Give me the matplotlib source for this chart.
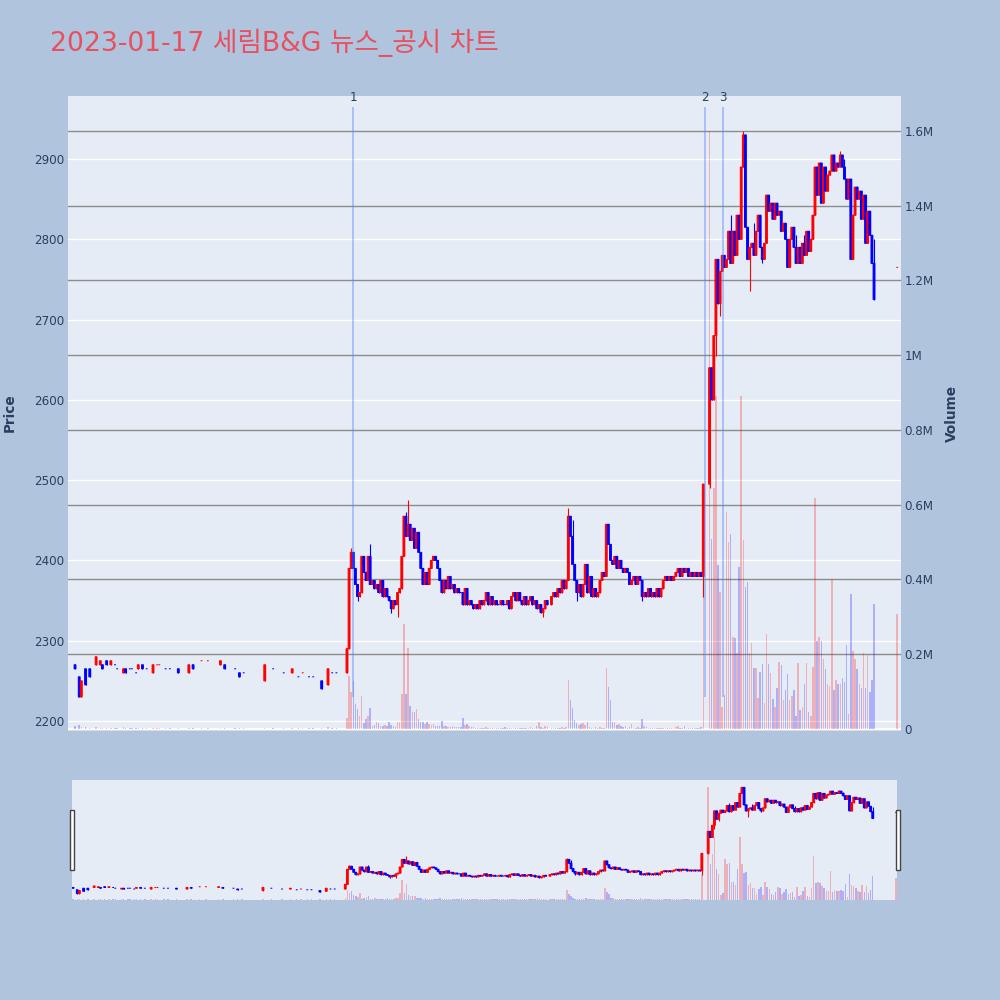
import matplotlib
matplotlib.use("Agg")
import matplotlib.pyplot as plt
from matplotlib.patches import Rectangle
from matplotlib.ticker import FuncFormatter

plt.rcParams['font.family'] = ['DejaVu Sans', 'Noto Sans CJK KR']

TITLE = "2023-01-17 세림B&G 뉴스_공시 차트"

# Morning session: sparse trades (minutes after 09:00)
am_minute = [0, 2, 3, 5, 7, 10, 12, 13, 15, 17, 19, 20, 23, 24, 26, 27, 29, 30, 32, 34,
             37, 39, 40, 43, 45, 49, 54, 56, 60, 63, 69, 71, 76, 78, 80, 90, 94, 99, 103, 106,
             108, 111, 113, 117, 120, 122, 124]
am_open = [2270, 2255, 2230, 2265, 2265, 2270, 2270, 2270, 2275, 2270, 2270, 2265, 2260, 2265, 2265,
           2265, 2260, 2265, 2270, 2265, 2260, 2270, 2270, 2265, 2265, 2265, 2260, 2270, 2275, 2275,
           2270, 2270, 2265, 2260, 2260, 2250, 2265, 2260, 2260, 2255, 2260, 2255, 2255, 2250, 2245,
           2260, 2260]
am_close = [2265, 2230, 2250, 2245, 2255, 2280, 2275, 2265, 2270, 2275, 2270, 2265, 2265, 2260, 2265,
            2265, 2260, 2270, 2265, 2265, 2270, 2270, 2270, 2265, 2265, 2260, 2270, 2265, 2275, 2275,
            2275, 2265, 2265, 2255, 2260, 2270, 2265, 2260, 2265, 2255, 2260, 2255, 2255, 2240, 2265,
            2260, 2260]
am_volume = [8, 10, 6, 5, 4, 6, 3, 3, 4, 3, 2, 2, 5, 3, 2, 2, 2, 3, 3, 2, 3, 2, 2, 2, 2, 3, 4, 3,
             2, 2, 3, 3, 2, 4, 2, 3, 2, 2, 3, 2, 2, 2, 2, 4, 5, 2, 2]   # thousand shares
am_flat_up = [39, 40, 60, 63, 108]

# From 11:09 one close per minute up to 15:19 (None = no trade)
pm_start = 129
pm_first_open = 2260
pm_close = [
    2290, 2390, 2410, 2390, 2370, 2355, 2360, 2405, 2385, 2375,
    2405, 2370, 2375, 2365, 2370, 2360, 2375, 2355, 2365, 2355,
    2350, 2340, 2350, 2345, 2360, 2365, 2405, 2455, 2430, 2445,
    2425, 2440, 2415, 2435, 2410, 2390, 2370, 2385, 2370, 2390,
    2400, 2405, 2400, 2390, 2375, 2360, 2375, 2365, 2380, 2365,
    2370, 2360, 2365, 2360, 2360, 2345, 2365, 2345, 2350, 2345,
    2340, 2345, 2340, 2350, 2345, 2350, 2360, 2345, 2355, 2345,
    2350, 2345, 2345, 2350, 2345, 2345, 2350, 2340, 2355, 2360,
    2350, 2360, 2350, 2345, 2355, 2345, 2350, 2355, 2345, 2350,
    2340, 2345, 2335, 2340, 2350, 2345, None, 2355, 2360, 2355,
    2365, 2360, 2375, 2365, 2375, 2455, 2430, 2395, 2375, 2360,
    2370, 2355, 2370, 2395, 2360, 2380, 2355, 2365, 2355, 2360,
    2375, 2385, 2380, 2445, 2420, 2400, 2395, 2405, 2390, 2400,
    2390, 2385, 2390, 2385, 2370, 2375, 2380, 2370, 2380, 2375,
    2355, 2360, 2355, 2365, 2355, 2360, 2355, 2365, 2355, 2365,
    2375, 2380, 2375, 2380, 2375, 2380, 2385, 2390, 2380, 2390,
    2385, 2390, 2380, 2385, 2380, 2385, 2380, 2385, 2380, 2495,
    None, None, 2640, 2600, 2680, 2775, 2720, 2760, 2780, 2765,
    2775, 2810, 2770, 2810, 2780, 2830, 2800, 2890, 2930, 2815,
    2775, 2790, 2795, 2780, 2810, 2830, 2790, 2775, 2795, 2855,
    2835, 2845, 2825, 2845, 2830, 2835, 2810, 2820, 2800, 2765,
    2800, 2815, 2790, 2770, 2790, 2770, 2795, 2780, 2810, 2785,
    2800, 2830, 2890, 2855, 2895, 2845, 2890, 2860, 2880, 2885,
    2905, 2885, 2895, 2890, 2905, 2890, 2875, 2850, 2875, 2775,
    2830, 2865, 2850, 2860, 2825, 2855, 2795, 2835, 2805, 2770,
    2725,
]
pm_volume = [
    30, 142, 100, 129, 66, 53, 35, 88, 15, 27,
    35, 56, 8, 12, 20, 15, 8, 8, 12, 8,
    18, 10, 8, 6, 20, 20, 93, 281, 93, 218,
    62, 45, 45, 53, 27, 18, 18, 13, 18, 13,
    10, 13, 8, 8, 8, 22, 8, 8, 6, 6,
    8, 5, 5, 5, 5, 29, 10, 13, 8, 5,
    5, 4, 3, 3, 4, 3, 5, 4, 3, 3,
    4, 3, 3, 3, 4, 5, 3, 3, 4, 3,
    3, 4, 3, 3, 3, 4, 3, 5, 3, 3,
    8, 20, 5, 4, 8, 6, None, 3, 3, 4,
    3, 3, 5, 4, 5, 130, 77, 57, 25, 15,
    10, 13, 15, 10, 20, 5, 4, 3, 5, 3,
    5, 4, 3, 163, 113, 77, 20, 20, 10, 13,
    8, 5, 8, 4, 5, 13, 4, 3, 5, 4,
    26, 8, 5, 4, 3, 3, 4, 3, 3, 3,
    4, 3, 3, 4, 3, 3, 5, 7, 3, 4,
    7, 3, 3, 4, 3, 3, 4, 3, 5, 352,
    None, None, 1600, 508, 646, 892, 439, 367, 60, 90,
    581, 501, 522, 246, 243, 204, 434, 892, 506, 381,
    394, 204, 231, 164, 164, 84, 153, 173, 70, 255,
    175, 150, 80, 60, 110, 180, 171, 78, 105, 148,
    78, 88, 105, 35, 177, 51, 60, 121, 177, 45,
    35, 166, 619, 236, 247, 236, 188, 160, 121, 115,
    400, 105, 131, 121, 121, 137, 126, 225, 40, 362,
    209, 188, 160, 121, 110, 204, 110, 198, 99, 131,
    335,
]
wick_high = {131: 2415, 140: 2420, 157: 2460, 158: 2475, 234: 2465, 236: 2450, 253: 2445,
             311: 2830, 317: 2935, 318: 2900, 322: 2820, 342: 2805, 346: 2805, 363: 2910,
             365: 2900, 373: 2860, 379: 2800}
wick_low = {134: 2350, 150: 2335, 153: 2330, 222: 2330, 238: 2350, 269: 2350, 298: 2355,
            301: 2490, 304: 2655, 306: 2705, 320: 2735, 326: 2770}

# closing auction 15:30
auction_minute = 390
auction_price = 2765
auction_volume = 308

news_times = ['11:12', '13:59', '14:07:30']
news_labels = ['1', '2', '3']

RED = '#FF0000'
BLUE = '#0000FF'
RED_V = (1.0, 0.0, 0.0, 0.25)
BLUE_V = (0.0, 0.0, 1.0, 0.25)
TXT = '#2a3f5f'
PLOT_BG = '#E5ECF6'


def to_minute(s):
    p = [int(v) for v in s.split(':')]
    return (p[0] - 9) * 60 + p[1] + (p[2] / 60.0 if len(p) > 2 else 0)


mins, opens, highs, lows, closes, vols, ups = [], [], [], [], [], [], []


def add(m, o, c, v, flat_up):
    mins.append(m)
    opens.append(o)
    closes.append(c)
    highs.append(max(o, c, wick_high.get(m, 0)))
    lows.append(min(o, c, wick_low.get(m, 99999)))
    vols.append(v * 1000)
    ups.append(c > o or (c == o and flat_up))


for m, o, c, v in zip(am_minute, am_open, am_close, am_volume):
    add(m, o, c, v, m in am_flat_up)

prev = pm_first_open
for i, (c, v) in enumerate(zip(pm_close, pm_volume)):
    if c is None:
        continue
    add(pm_start + i, prev, c, v, False)
    prev = c

add(auction_minute, auction_price, auction_price, auction_volume, True)

cols = [RED if u else BLUE for u in ups]
vcols = [RED_V if u else BLUE_V for u in ups]
body_b = [min(o, c) for o, c in zip(opens, closes)]
body_h = [abs(c - o) for o, c in zip(opens, closes)]

P_LIM = (2187.5, 2978.5)
V_LIM = (-5350, 1693600)


def layered_axes(rect, xlim):
    # base: background + price grid, vol: volume grid + bars, price: candles on top
    base = fig.add_axes(rect)
    base.set_facecolor(PLOT_BG)
    vol = base.twinx()
    price = base.twinx()
    for a in (vol, price):
        a.patch.set_visible(False)
    base.set_ylim(*P_LIM)
    price.set_ylim(*P_LIM)
    vol.set_ylim(*V_LIM)
    for a in (base, vol, price):
        a.set_xlim(*xlim)
        for s in a.spines.values():
            s.set_visible(False)
    price.vlines(mins, lows, highs, colors=cols, linewidth=0.8, zorder=2)
    price.bar(mins, body_h, bottom=body_b, width=0.85, color=cols, edgecolor=cols,
              linewidth=0.75, zorder=3, snap=False)
    vol.bar(mins, vols, width=0.7, color=vcols, linewidth=0, zorder=3)
    return base, vol, price


fig = plt.figure(figsize=(10, 10), dpi=100, facecolor='#B0C4DE')

# main chart
ax, axv, axp = layered_axes([0.068, 0.269, 0.833, 0.635], (-3.32, 391.8))

ax.set_yticks(range(2200, 3000, 100))
ax.grid(axis='y', color='white', linewidth=1.0)
ax.set_axisbelow(True)
axp.set_yticks([])
axv.set_yticks([i * 200000 for i in range(9)])
axv.yaxis.set_major_formatter(FuncFormatter(
    lambda v, p: '0' if v == 0 else ('%gM' % (v / 1e6))))
axv.grid(axis='y', color='#8c8c8c', linewidth=1.0)
axv.set_axisbelow(True)
axv.axhline(0, color='white', linewidth=1.6, zorder=1)

ax.set_xticks([0, 60, 120, 180, 240, 300, 360])
ax.set_xticklabels(['09:00\nJan 17, 2023', '10:00', '11:00', '12:00', '13:00', '14:00', '15:00'])
ax.tick_params(axis='x', length=0, pad=4, labelsize=8.6, colors=TXT)
ax.tick_params(axis='y', length=0, pad=2.5, labelsize=8.6, colors=TXT)
axv.tick_params(axis='y', length=0, pad=2.5, labelsize=8.6, colors=TXT)
axp.set_xticks([])

# news markers
line_lo = min(lows)
line_hi = max(highs) * 1.01
for t, lab in zip(news_times, news_labels):
    m = to_minute(t)
    axp.vlines(m, line_lo, line_hi, colors=[(0.35, 0.5, 1.0, 0.45)], linewidth=1.3, zorder=6)
    axp.annotate(lab, (m, line_hi), xytext=(0, 2.5), textcoords='offset points',
                 ha='center', va='bottom', fontsize=8.6, color=TXT, annotation_clip=False)

fig.text(0.010, 0.587, 'Price', rotation=90, ha='center', va='center',
         fontsize=9.8, fontweight='bold', color=TXT)
fig.text(0.952, 0.587, 'Volume', rotation=90, ha='center', va='center',
         fontsize=9.8, fontweight='bold', color=TXT)
fig.text(0.05, 0.949, TITLE, ha='left', va='baseline', fontsize=19.2, color='#E8505F')

# range slider
axs, axsv, axsp = layered_axes([0.072, 0.1, 0.825, 0.12], (-0.5, 390.5))
for a in (axs, axsv, axsp):
    a.set_xticks([])
    a.set_yticks([])

for hx in (0.0695, 0.8955):
    fig.patches.append(Rectangle((hx, 0.13), 0.004, 0.06, transform=fig.transFigure,
                                 facecolor='white', edgecolor='#444444', linewidth=1.0))

fig.savefig('out.png', dpi=100, facecolor=fig.get_facecolor())
